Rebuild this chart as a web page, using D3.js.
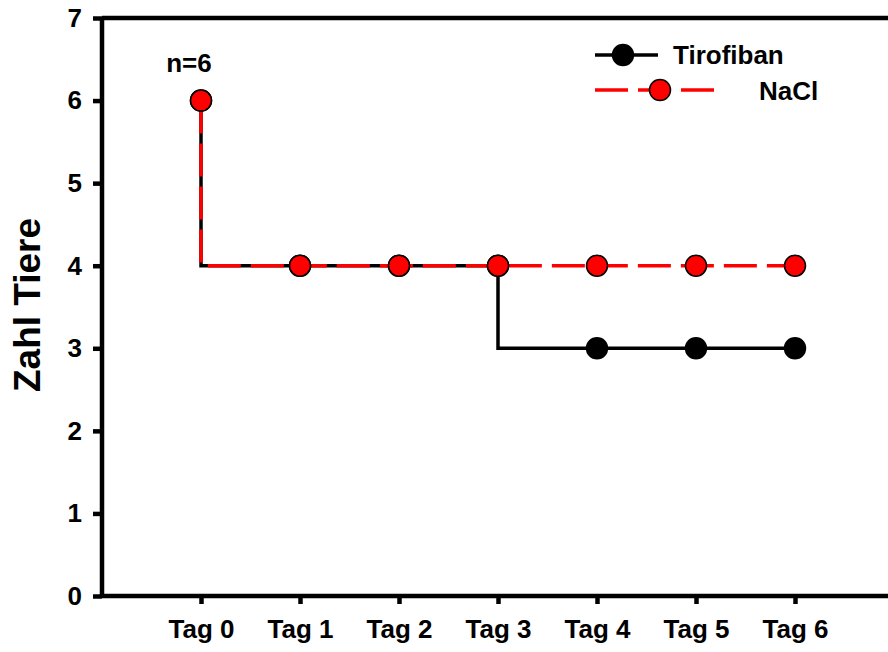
<!DOCTYPE html>
<html>
<head>
<meta charset="utf-8">
<script src="https://cdn.jsdelivr.net/npm/d3@7"></script>
<style>
  html, body { margin: 0; padding: 0; background: #fff; }
  svg { display: block; }
  text { font-family: "Liberation Sans", Arial, sans-serif; font-weight: bold; fill: #000; }
</style>
</head>
<body>
<svg id="chart" width="888" height="652"></svg>
<script>
// Number of animals per day
const days = [0, 1, 2, 3, 4, 5, 6];
const dayLabels = ["Tag 0", "Tag 1", "Tag 2", "Tag 3", "Tag 4", "Tag 5", "Tag 6"];
const tirofiban = [6, 4, 4, 4, 3, 3, 3];
const nacl = [6, 4, 4, 4, 4, 4, 4];
const yTicks = [0, 1, 2, 3, 4, 5, 6, 7];
const seriesNames = ["Tirofiban", "NaCl"];
const annotation = "n=6";
const yTitle = "Zahl Tiere";

const svg = d3.select("#chart");

const x = d3.scaleLinear().domain([-1, 7]).range([102, 894]);
const y = d3.scaleLinear().domain([0, 7]).range([596, 18]);

const axisW = 4.5;
const g = svg.append("g");

// frame: top line and right edge
g.append("line")
  .attr("x1", x(-1)).attr("x2", x(7))
  .attr("y1", y(7)).attr("y2", y(7))
  .attr("stroke", "#000").attr("stroke-width", axisW);
g.append("line")
  .attr("x1", x(7)).attr("x2", x(7))
  .attr("y1", y(7)).attr("y2", y(0))
  .attr("stroke", "#000").attr("stroke-width", axisW);

// y axis
const yAxis = g.append("g")
  .attr("transform", `translate(${x(-1)},0)`)
  .call(d3.axisLeft(y).tickValues(yTicks).tickSize(9).tickPadding(11).tickFormat(d3.format("d")));
yAxis.select(".domain").attr("stroke-width", axisW).attr("d", `M0,${y(0)}V${y(7)}`);
yAxis.selectAll(".tick line").attr("stroke-width", axisW);
yAxis.selectAll(".tick text")
  .style("font-size", "26px").style("font-family", "'Liberation Sans', Arial, sans-serif")
  .style("font-weight", "bold").attr("fill", "#000");

// x axis
const xAxis = g.append("g")
  .attr("transform", `translate(0,${y(0)})`)
  .call(d3.axisBottom(x).tickValues(days).tickSize(8).tickPadding(16)
    .tickFormat((d, i) => dayLabels[i]));
xAxis.select(".domain").attr("stroke-width", axisW).attr("d", `M${x(-1)},0H${x(7)}`);
xAxis.selectAll(".tick line").attr("stroke-width", axisW);
xAxis.selectAll(".tick text")
  .style("font-size", "26px").style("font-family", "'Liberation Sans', Arial, sans-serif")
  .style("font-weight", "bold").attr("fill", "#000");

// y axis title
svg.append("text")
  .attr("transform", `translate(40,305) rotate(-90)`)
  .attr("text-anchor", "middle")
  .style("font-size", "37px")
  .text(yTitle);

// step lines (value drops on the day it is recorded)
const line = d3.line()
  .x((d, i) => x(days[i]))
  .y(d => y(d))
  .curve(d3.curveStepBefore);

g.append("path")
  .datum(tirofiban)
  .attr("d", line)
  .attr("fill", "none")
  .attr("stroke", "#000")
  .attr("stroke-width", 3.5);

g.append("path")
  .datum(nacl)
  .attr("d", line)
  .attr("fill", "none")
  .attr("stroke", "#ff0000")
  .attr("stroke-width", 3.5)
  .attr("stroke-dasharray", "33,10");

const r = 10.5;
g.selectAll("circle.tiro")
  .data(tirofiban)
  .join("circle")
  .attr("class", "tiro")
  .attr("cx", (d, i) => x(days[i]))
  .attr("cy", d => y(d))
  .attr("r", r)
  .attr("fill", "#000")
  .attr("stroke", "#000")
  .attr("stroke-width", 1.5);

g.selectAll("circle.nacl")
  .data(nacl)
  .join("circle")
  .attr("class", "nacl")
  .attr("cx", (d, i) => x(days[i]))
  .attr("cy", d => y(d))
  .attr("r", r)
  .attr("fill", "#ff0000")
  .attr("stroke", "#000")
  .attr("stroke-width", 1.5);

// annotation above the first point
svg.append("text")
  .attr("x", x(0) - 12)
  .attr("y", 72)
  .attr("text-anchor", "middle")
  .style("font-size", "26px")
  .text(annotation);

// legend
const legend = svg.append("g");
legend.append("line")
  .attr("x1", 595).attr("x2", 658).attr("y1", 55).attr("y2", 55)
  .attr("stroke", "#000").attr("stroke-width", 3.5);
legend.append("circle")
  .attr("cx", 623).attr("cy", 55).attr("r", r)
  .attr("fill", "#000").attr("stroke", "#000").attr("stroke-width", 1.5);
legend.append("text")
  .attr("x", 673).attr("y", 64)
  .style("font-size", "26px")
  .text(seriesNames[0]);

legend.append("line")
  .attr("x1", 595).attr("x2", 714).attr("y1", 90).attr("y2", 90)
  .attr("stroke", "#ff0000").attr("stroke-width", 3.5)
  .attr("stroke-dasharray", "33,10");
legend.append("circle")
  .attr("cx", 660).attr("cy", 90).attr("r", r)
  .attr("fill", "#ff0000").attr("stroke", "#000").attr("stroke-width", 1.5);
legend.append("text")
  .attr("x", 759).attr("y", 100)
  .style("font-size", "26px")
  .text(seriesNames[1]);
</script>
</body>
</html>
